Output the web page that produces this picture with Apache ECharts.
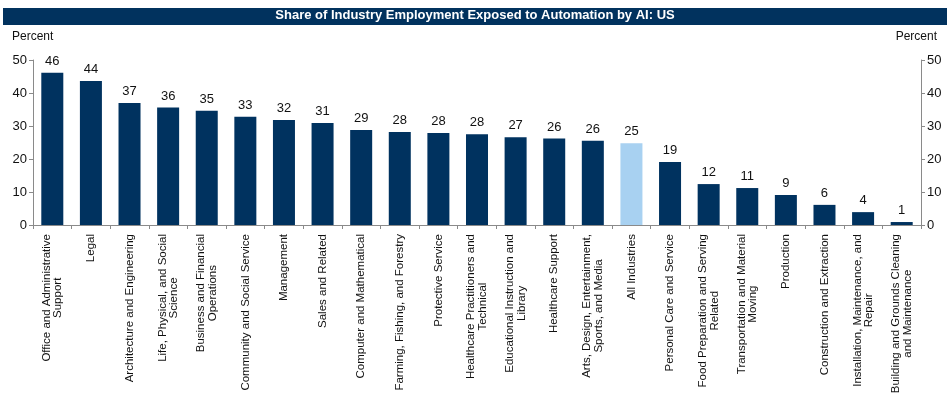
<!DOCTYPE html>
<html>
<head>
<meta charset="utf-8">
<script src="https://cdn.jsdelivr.net/npm/echarts@6/dist/echarts.min.js"></script>
<style>html,body{margin:0;padding:0;background:#fff;}#c{width:950px;height:393px;}</style>
</head>
<body>
<div id="c"></div>
<script>
var categories = [
  "Office and Administrative\nSupport",
  "Legal",
  "Architecture and Engineering",
  "Life, Physical, and Social\nScience",
  "Business and Financial\nOperations",
  "Community and Social Service",
  "Management",
  "Sales and Related",
  "Computer and Mathematical",
  "Farming, Fishing, and Forestry",
  "Protective Service",
  "Healthcare Practitioners and\nTechnical",
  "Educational Instruction and\nLibrary",
  "Healthcare Support",
  "Arts, Design, Entertainment,\nSports, and Media",
  "All Industries",
  "Personal Care and Service",
  "Food Preparation and Serving\nRelated",
  "Transportation and Material\nMoving",
  "Production",
  "Construction and Extraction",
  "Installation, Maintenance, and\nRepair",
  "Building and Grounds Cleaning\nand Maintenance"
];
var values = [46.1, 43.6, 37.0, 35.6, 34.6, 32.8, 31.8, 30.9, 28.8, 28.2, 27.9, 27.5, 26.6, 26.2, 25.5, 24.8, 19.1, 12.4, 11.2, 9.1, 6.1, 3.9, 0.9];
var highlightCategory = "All Industries";
var yTicks = [0, 10, 20, 30, 40, 50];
var titleText = "Share of Industry Employment Exposed to Automation by AI: US";
var unitText = "Percent";

var navy = "#00325F";
var light = "#A8D1F1";
var axisColor = "#8a8a8a";
var font = "Liberation Sans, Arial, sans-serif";

var chart = echarts.init(document.getElementById('c'));
var seriesData = values.map(function (v, i) {
  return { value: v, itemStyle: { color: categories[i] === highlightCategory ? light : navy } };
});
var yAxisCommon = {
  type: 'value', min: yTicks[0], max: yTicks[yTicks.length - 1], interval: 10,
  splitLine: { show: false },
  axisLine: { show: true, lineStyle: { color: axisColor, width: 1 } },
  axisTick: { show: true, length: 4, lineStyle: { color: axisColor } },
  axisLabel: { color: '#111', fontSize: 13, fontFamily: font, margin: 6 }
};
chart.setOption({
  animation: false,
  backgroundColor: '#fff',
  graphic: [
    { type: 'rect', shape: { x: 3, y: 8, width: 944, height: 17 }, style: { fill: '#01325E' }, silent: true },
    { type: 'text', left: 'center', top: 9, style: { text: titleText, fill: '#fff', font: 'bold 13px ' + font } },
    { type: 'text', left: 12, top: 31, style: { text: unitText, fill: '#111', font: '12px ' + font } },
    { type: 'text', right: 13, top: 31, style: { text: unitText, fill: '#111', font: '12px ' + font } }
  ],
  grid: { left: 33, right: 29, top: 60, bottom: 168, containLabel: false, outerBoundsMode: 'none' },
  xAxis: {
    type: 'category', data: categories,
    axisLine: { show: true, lineStyle: { color: axisColor, width: 1 } },
    axisTick: { show: true, length: 4, alignWithLabel: false, lineStyle: { color: axisColor } },
    axisLabel: {
      interval: 0, rotate: 90, margin: 9, color: '#111', fontSize: 11.5, fontFamily: font,
      formatter: function (v) {
        return v.split('\n').map(function (s) { return '{c|' + s + '}'; }).join('\n');
      },
      rich: { c: { align: 'center', fontSize: 11.5, fontFamily: font, color: '#111', lineHeight: 11.5 } }
    }
  },
  yAxis: [
    Object.assign({}, yAxisCommon, { position: 'left' }),
    Object.assign({}, yAxisCommon, { position: 'right' })
  ],
  series: [{
    type: 'bar', data: seriesData, barWidth: '57%', yAxisIndex: 0,
    label: {
      show: true, position: 'top', distance: 5, color: '#111', fontSize: 13, fontFamily: font,
      formatter: function (p) { return Math.round(p.value); }
    }
  }]
});
</script>
</body>
</html>
